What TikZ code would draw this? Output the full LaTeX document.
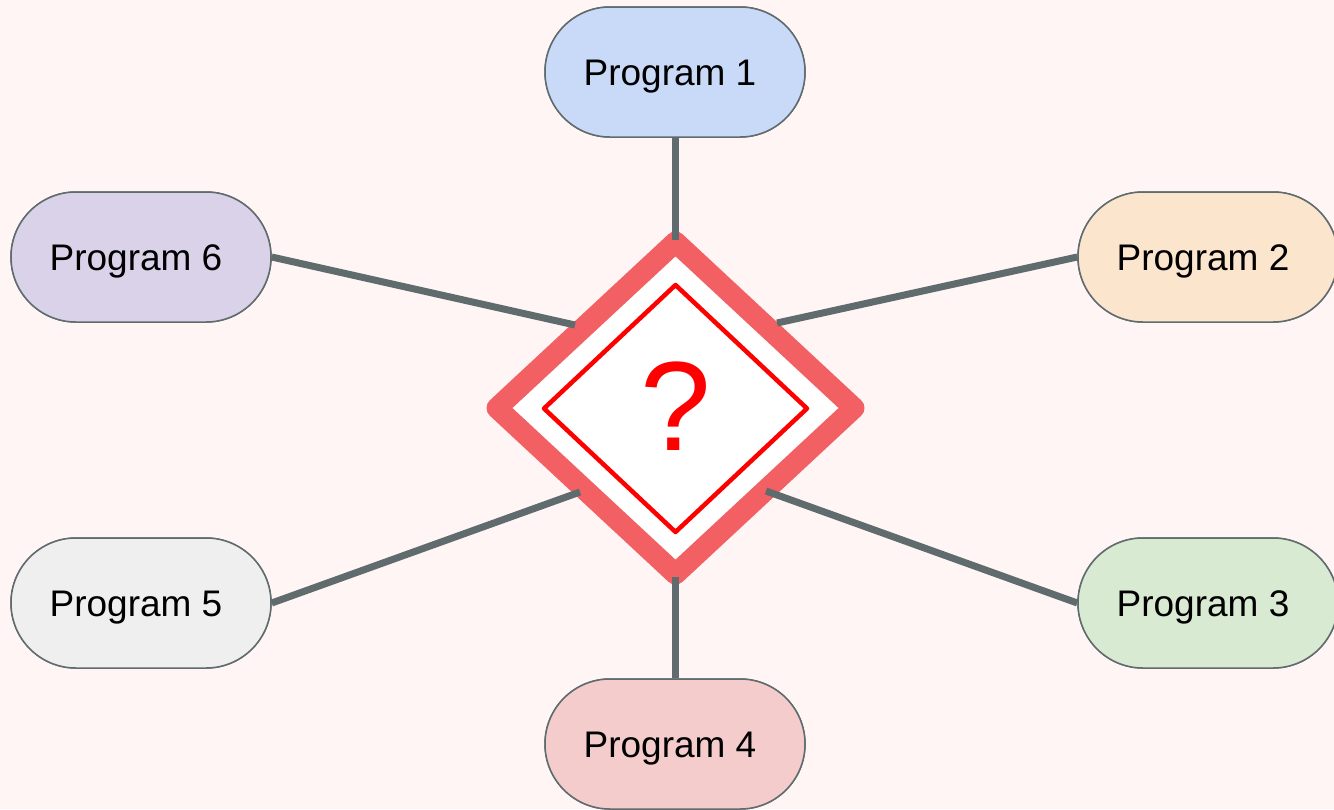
\documentclass[tikz,border=0pt]{standalone}
\usepackage{fontspec}
\setmainfont{Liberation Sans}
\definecolor{bgpink}{RGB}{255,245,245}
\definecolor{ringred}{RGB}{243,96,99}
\definecolor{linkgray}{RGB}{95,107,108}
\definecolor{fillA}{HTML}{C9DAF8}
\definecolor{fillB}{HTML}{FCE5CD}
\definecolor{fillC}{HTML}{D9EAD3}
\definecolor{fillD}{HTML}{F4CCCC}
\definecolor{fillE}{HTML}{EFEFEF}
\definecolor{fillF}{HTML}{D9D2E9}
% label text placed a little left of and below the pill centre
\newcommand\plabel[1]{\hspace*{-10pt}\raisebox{-13pt}[0pt][0pt]{#1}}
\begin{document}
\begin{tikzpicture}[x=1pt,y=-1pt,
  prog/.style={draw=linkgray,line width=1.5pt,minimum width=260pt,minimum height=130pt,
    rounded corners=65pt,inner sep=0pt,font=\fontsize{37}{44}\selectfont},
  link/.style={draw=linkgray,line width=7pt,line cap=butt}]
  % canvas
  \fill[bgpink] (0,0) rectangle (1334,809);
  \useasboundingbox (0,0) rectangle (1334,809);

  % central decision sign
  \coordinate (ctr) at (675.5,408);
  \draw[ringred,fill=white,line width=21pt,line join=round]
    (497,408) -- (675.5,242) -- (854,408) -- (675.5,574) -- cycle;
  \draw[red,line width=4.5pt,line join=round]
    (544,408.5) -- (675.5,285) -- (807,408.5) -- (675.5,532) -- cycle;
  \node[text=red,font=\fontsize{127}{130}\selectfont] (q) at (676,406) {?};

  % program nodes
  \node[prog,fill=fillA] (p1) at (675,72)   {\plabel{Program 1}};
  \node[prog,fill=fillB] (p2) at (1208,257) {\plabel{Program 2}};
  \node[prog,fill=fillC] (p3) at (1208,603) {\plabel{Program 3}};
  \node[prog,fill=fillD] (p4) at (675,744)  {\plabel{Program 4}};
  \node[prog,fill=fillE] (p5) at (141,603)  {\plabel{Program 5}};
  \node[prog,fill=fillF] (p6) at (141,257)  {\plabel{Program 6}};

  % connector ends on the sign
  \coordinate (e1) at (675,240);
  \coordinate (e2) at (777,323);
  \coordinate (e3) at (766,491);
  \coordinate (e4) at (675,577);
  \coordinate (e5) at (580,492);
  \coordinate (e6) at (575,325);

  % connectors
  \path[link] (p1.south) -- (e1);
  \path[link] (p2.west)  -- (e2);
  \path[link] (p3.west)  -- (e3);
  \path[link] (p4.north) -- (e4);
  \path[link] (p5.east)  -- (e5);
  \path[link] (p6.east)  -- (e6);

  % pills drawn again so the connector ends sit beneath them
  \node[prog,fill=fillA] at (p1) {\plabel{Program 1}};
  \node[prog,fill=fillB] at (p2) {\plabel{Program 2}};
  \node[prog,fill=fillC] at (p3) {\plabel{Program 3}};
  \node[prog,fill=fillD] at (p4) {\plabel{Program 4}};
  \node[prog,fill=fillE] at (p5) {\plabel{Program 5}};
  \node[prog,fill=fillF] at (p6) {\plabel{Program 6}};
\end{tikzpicture}
\end{document}
